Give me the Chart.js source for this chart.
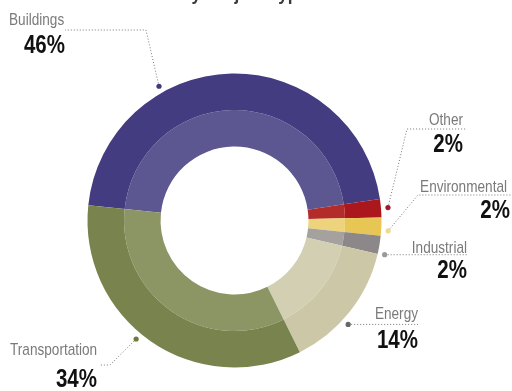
<!DOCTYPE html>
<html>
<head>
<meta charset="utf-8">
<script src="https://cdn.jsdelivr.net/npm/chart.js@4/dist/chart.umd.min.js"></script>
<style>
  html, body { margin: 0; padding: 0; background: #fff; }
  #wrap { width: 512px; height: 391px; }
</style>
</head>
<body>
<div id="wrap"><canvas id="c" width="512" height="391"></canvas></div>
<script>
// Share of projects by type (percent)
const categories = ['Buildings', 'Other', 'Environmental', 'Industrial', 'Energy', 'Transportation'];
const shares = [46, 2, 2, 2, 14, 34];

// Ring colours: outer band darker, inner band lighter
const outerColors = ['#443c80', '#aa181d', '#e8c655', '#8c888a', '#ccc8a7', '#78834e'];
const innerColors = ['#5c5791', '#b42c2a', '#edd37c', '#a4a19f', '#d3cfb3', '#8b9664'];
const dotColors   = ['#3f3a7a', '#9e1b2c', '#efd98a', '#9a9a9a', '#666666', '#6d7a3a'];

const FONT = "'Liberation Sans', Arial, sans-serif";
const NARROW = 0.8; // horizontal squeeze for a condensed look

// Callout layout: where each leader dot sits along its slice, the elbow of
// the dotted line, where the line ends, and where the two text lines go.
const callouts = [
  { frac: 0.33, elbow: [146, 30], end: [65, 30],  name: [9, 25, 'left'],    pct: [65, 53, 'right'] },
  { frac: 0.50, elbow: [407, 129], end: [467, 129], name: [463, 125, 'right'], pct: [463, 152, 'right'] },
  { frac: 0.70, elbow: [418, 195], end: [512, 195], name: [507, 192, 'right'], pct: [510, 218, 'right'] },
  { frac: 0.95, elbow: null,       end: [468, null], name: [467, 253, 'right'], pct: [467, 278, 'right'] },
  { frac: 0.58, elbow: null,       end: [418, null], name: [418, 319, 'right'], pct: [418, 348, 'right'] },
  { frac: 0.54, elbow: [110, 365], end: [100, 365], name: [10, 355, 'left'],   pct: [97, 387, 'right'] }
];

// Draw text squeezed horizontally about its anchor point
function narrowText(ctx, text, x, y, align, font, color, squeeze) {
  ctx.save();
  ctx.font = font;
  ctx.fillStyle = color;
  ctx.textAlign = align;
  ctx.textBaseline = 'alphabetic';
  ctx.translate(x, y);
  ctx.scale(squeeze, 1);
  ctx.fillText(text, 0, 0);
  ctx.restore();
}

const calloutPlugin = {
  id: 'callouts',
  afterDraw(chart) {
    const ctx = chart.ctx;
    const arcs = chart.getDatasetMeta(0).data;

    // Heading line (sits mostly above the top edge)
    narrowText(ctx, 'by Project Type', 181, 0, 'left', 'bold 21px ' + FONT, '#3a3a3a', 0.82);

    arcs.forEach((arc, i) => {
      const p = arc.getProps(['x', 'y', 'startAngle', 'endAngle', 'outerRadius'], true);
      const c = callouts[i];
      const a = p.startAngle + c.frac * (p.endAngle - p.startAngle);
      const r = p.outerRadius + 7;
      const dx = p.x + Math.cos(a) * r;
      const dy = p.y + Math.sin(a) * r;

      // dotted leader
      ctx.save();
      ctx.strokeStyle = '#777';
      ctx.lineWidth = 1;
      ctx.setLineDash([1, 2]);
      ctx.beginPath();
      ctx.moveTo(dx, dy);
      if (c.elbow) {
        ctx.lineTo(c.elbow[0], c.elbow[1]);
        ctx.lineTo(c.end[0], c.end[1]);
      } else {
        ctx.lineTo(c.end[0], dy);
      }
      ctx.stroke();
      ctx.restore();

      // dot
      ctx.save();
      ctx.fillStyle = dotColors[i];
      ctx.beginPath();
      ctx.arc(dx, dy, 2.6, 0, Math.PI * 2);
      ctx.fill();
      ctx.restore();

      // category name and percentage
      narrowText(ctx, categories[i], c.name[0], c.name[1], c.name[2], '17px ' + FONT, '#7a7a7a', NARROW);
      narrowText(ctx, shares[i] + '%', c.pct[0], c.pct[1], c.pct[2], 'bold 25px ' + FONT, '#111', 0.82);
    });
  }
};

new Chart(document.getElementById('c'), {
  type: 'doughnut',
  data: {
    labels: categories,
    datasets: [
      { data: shares, backgroundColor: outerColors, borderWidth: 0, hoverOffset: 0 },
      { data: shares, backgroundColor: innerColors, borderWidth: 0, hoverOffset: 0 }
    ]
  },
  options: {
    responsive: false,
    animation: false,
    events: [],
    rotation: 276,
    cutout: '50.3%',
    layout: { padding: { left: 87.5, right: 130.5, top: 73.5, bottom: 23.5 } },
    plugins: {
      legend: { display: false },
      tooltip: { enabled: false },
      title: { display: false }
    }
  },
  plugins: [calloutPlugin]
});
</script>
</body>
</html>
